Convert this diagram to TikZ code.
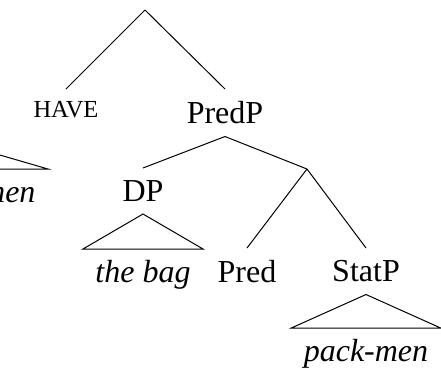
\documentclass[tikz,border=0pt]{standalone}
\usepackage{fontspec}
\setmainfont{Liberation Serif}

\begin{document}
\begin{tikzpicture}[x=1pt, y=-1pt, line width=1pt,
    cat/.style={anchor=north, inner sep=12pt, font=\fontsize{32}{38}\selectfont},
    smallcat/.style={cat, font=\fontsize{24.5}{28}\selectfont},
    leaf/.style={cat, inner ysep=11pt, text height=22pt, text depth=7pt,
        font=\fontsize{32}{38}\selectfont\itshape}]
    \useasboundingbox (0,0) rectangle (441,373);
    \clip (0,0) rectangle (441,373);

    % Root and its daughters
    \coordinate (root) at (145,10);
    \node[smallcat] (have) at (66,89) {HAVE};
    \node[cat] (predp) at (225,89) {PredP};
    \draw (root) -- (have.north);
    \draw (root) -- (predp.north);

    % Left subtree (cut off)
    \coordinate (leftapex) at (-69,135);
    \coordinate (leftbase) at (-186,169);
    \node[leaf, anchor=north east] (men) at (48,169) {men};
    \draw (leftapex) -- (men.north east) -- (leftbase) -- cycle;

    % PredP
    \node[cat] (dp) at (143,168) {DP};
    \coordinate (predbar) at (307,169);
    \draw (predp.south) -- (dp.north);
    \draw (predp.south) -- (predbar);

    % DP roof
    \node[leaf] (thebag) at (143,249) {the bag};
    \draw (dp.south) -- (thebag.north west) -- (thebag.north east) -- cycle;

    % Pred and StatP
    \node[cat] (pred) at (247,248) {Pred};
    \node[cat] (statp) at (366,248) {StatP};
    \draw (predbar) -- (pred.north);
    \draw (predbar) -- (statp.north);

    % StatP roof
    \node[leaf] (packmen) at (366,328) {pack-men};
    \draw (statp.south) -- (packmen.north west) -- (packmen.north east) -- cycle;
\end{tikzpicture}
\end{document}
